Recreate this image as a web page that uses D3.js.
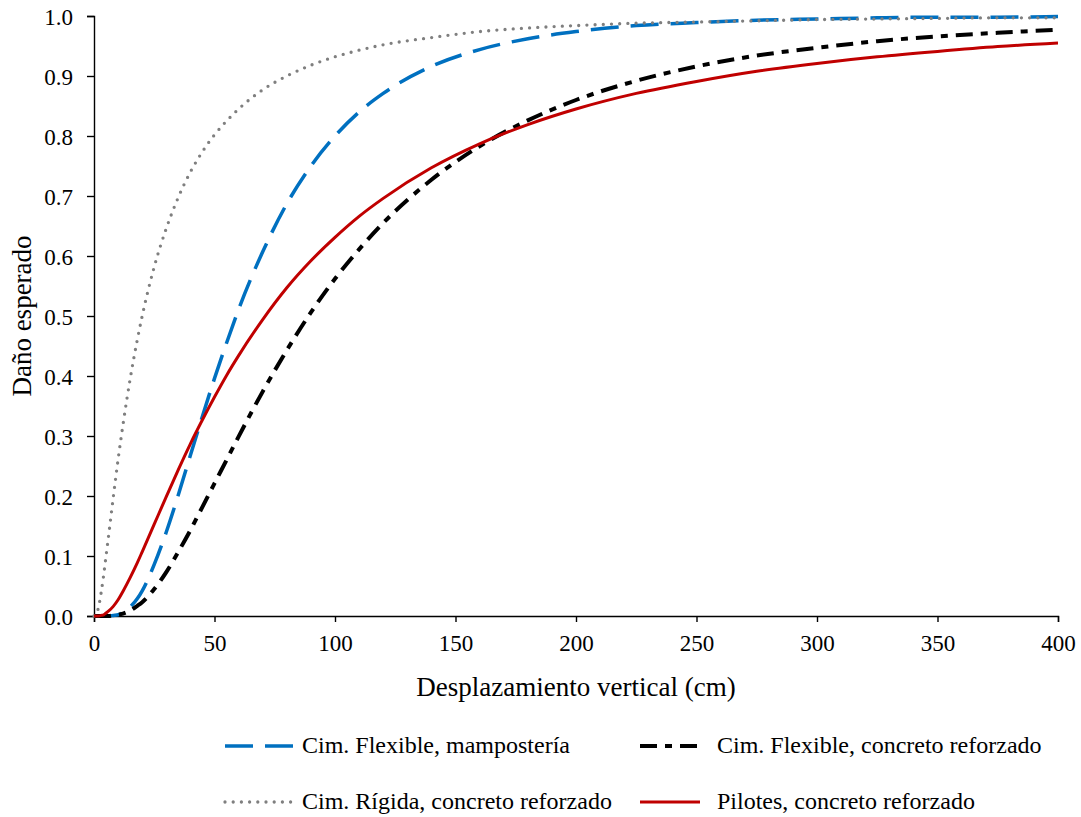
<!DOCTYPE html>
<html>
<head>
<meta charset="utf-8">
<script src="https://cdn.jsdelivr.net/npm/d3@7"></script>
<style>
  html, body { margin: 0; padding: 0; background: #fff; }
  svg { display: block; }
  text { font-family: "Liberation Serif", "Times New Roman", serif; fill: #000; }
</style>
</head>
<body>
<svg id="chart" width="1081" height="817"></svg>
<script>
// Displacement (cm)
const xValues = [0,1,2,3,4,5,6,8,10,12,15,18,20,25,30,35,40,45,50,55,60,70,80,90,100,110,120,140,160,180,200,225,250,275,300,325,350,375,400];

// Expected damage, one array per series
const flexMamposteria = [0,0,0,0,0,0,0,0.001,0.002,0.006,0.015,0.029,0.042,0.086,0.140,0.202,0.268,0.333,0.396,0.455,0.511,0.607,0.687,0.750,0.800,0.840,0.871,0.916,0.944,0.962,0.974,0.984,0.989,0.993,0.995,0.997,0.998,0.998,0.999];
const flexConcreto = [0,0,0,0,0,0,0,0.001,0.002,0.004,0.009,0.017,0.023,0.045,0.073,0.107,0.143,0.182,0.221,0.260,0.299,0.374,0.443,0.506,0.562,0.611,0.655,0.727,0.783,0.826,0.860,0.892,0.916,0.934,0.947,0.958,0.966,0.972,0.977];
const rigidaConcreto = [0,0.003,0.017,0.040,0.068,0.100,0.132,0.198,0.261,0.318,0.395,0.461,0.500,0.582,0.646,0.698,0.740,0.774,0.802,0.825,0.845,0.877,0.900,0.918,0.932,0.943,0.952,0.964,0.974,0.980,0.984,0.988,0.990,0.992,0.994,0.995,0.996,0.997,0.997];
const pilotesConcreto = [0,0,0,0.001,0.002,0.005,0.008,0.016,0.027,0.041,0.064,0.089,0.107,0.153,0.199,0.244,0.287,0.327,0.365,0.401,0.434,0.494,0.547,0.592,0.631,0.666,0.696,0.747,0.787,0.819,0.845,0.871,0.891,0.908,0.921,0.932,0.941,0.949,0.955];

const seriesNames = ["Cim. Flexible, mampostería", "Cim. Flexible, concreto reforzado", "Cim. Rígida, concreto reforzado", "Pilotes, concreto reforzado"];
const xTicks = [0,50,100,150,200,250,300,350,400];
const yTicks = [0,0.1,0.2,0.3,0.4,0.5,0.6,0.7,0.8,0.9,1.0];
const xTitle = "Desplazamiento vertical (cm)";
const yTitle = "Daño esperado";

const styles = [
  { color: "#0070C0", width: 3.5, dash: "28,12", cap: "butt" },
  { color: "#000000", width: 4, dash: "17,8,7,8", cap: "butt" },
  { color: "#7F7F7F", width: 3.3, dash: "0,8.2", cap: "round" },
  { color: "#C00000", width: 3, dash: null, cap: "butt" }
];
const seriesValues = [flexMamposteria, flexConcreto, rigidaConcreto, pilotesConcreto];

const svg = d3.select("#chart");
const x = d3.scaleLinear().domain([0, 400]).range([94, 1058]);
const y = d3.scaleLinear().domain([0, 1]).range([616, 16]);

const FONT = "'Liberation Serif', 'Times New Roman', serif";

// Axes
const xAxis = svg.append("g").attr("transform", "translate(0,616)")
  .call(d3.axisBottom(x).tickValues(xTicks).tickSize(6).tickPadding(12).tickFormat(d3.format("d")));
const yAxis = svg.append("g").attr("transform", "translate(94,0)")
  .call(d3.axisLeft(y).tickValues(yTicks).tickSize(7).tickPadding(14).tickFormat(d3.format(".1f")));
[xAxis, yAxis].forEach(g => {
  g.attr("font-family", FONT);
  g.select(".domain").attr("stroke", "#000").attr("stroke-width", 1.4);
  g.selectAll(".tick line").attr("stroke", "#000").attr("stroke-width", 1.4);
  g.selectAll(".tick text").style("font-family", FONT)
    .attr("font-size", 23).attr("fill", "#000");
});
xAxis.selectAll(".tick text").attr("dy", null).attr("y", 0).attr("transform", "translate(0,35)");
yAxis.selectAll(".tick text").attr("dy", "0.35em");

// Lines
const line = d3.line().x((d, i) => x(xValues[i])).y(d => y(d)).curve(d3.curveMonotoneX);
[0, 1, 2, 3].forEach(k => {
  const s = styles[k];
  const p = svg.append("path").datum(seriesValues[k])
    .attr("d", line).attr("fill", "none")
    .attr("stroke", s.color).attr("stroke-width", s.width)
    .attr("stroke-linecap", s.cap).attr("stroke-linejoin", "round");
  if (s.dash) p.attr("stroke-dasharray", s.dash);
});

// Axis titles
svg.append("text").attr("x", 576).attr("y", 696).attr("text-anchor", "middle")
  .style("font-family", FONT).attr("font-size", 27).text(xTitle);
svg.append("text").attr("transform", "translate(31,316) rotate(-90)").attr("text-anchor", "middle")
  .style("font-family", FONT).attr("font-size", 27).text(yTitle);

// Legend
const legendPos = [
  { x1: 225, x2: 294, tx: 302, y: 746 },
  { x1: 640, x2: 700, tx: 717, y: 746 },
  { x1: 225, x2: 294, tx: 302, y: 802 },
  { x1: 640, x2: 700, tx: 717, y: 802 }
];
seriesNames.forEach((name, k) => {
  const s = styles[k], p = legendPos[k];
  const l = svg.append("line").attr("x1", p.x1).attr("x2", p.x2).attr("y1", p.y).attr("y2", p.y)
    .attr("stroke", s.color).attr("stroke-width", s.width).attr("stroke-linecap", s.cap);
  if (s.dash) l.attr("stroke-dasharray", s.dash);
  svg.append("text").attr("x", p.tx).attr("y", p.y + 7).style("font-family", FONT)
    .attr("font-size", 24).text(name);
});
</script>
</body>
</html>
